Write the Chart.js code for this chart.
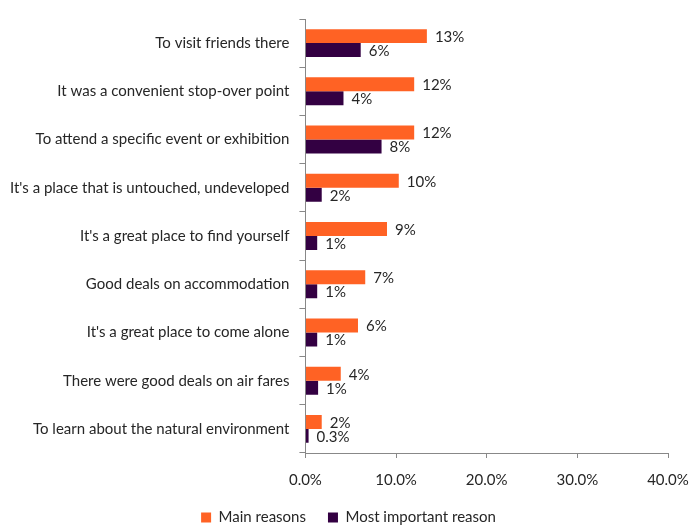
<!DOCTYPE html>
<html lang="en">
<head>
    <meta charset="UTF-8">
    <title>Reasons for visiting</title>
    <script src="https://cdn.jsdelivr.net/npm/chart.js"></script>
<style>
body {
    margin: 0;
    background: #ffffff;
}
#reasonsChart {
    display: block;
}
</style>
</head>
<body>
    <canvas id="reasonsChart" width="691" height="525"></canvas>
    <script>
        // values (percent)
        const reasons = [
            "To visit friends there",
            "It was a convenient stop-over point",
            "To attend a specific event or exhibition",
            "It's a place that is untouched, undeveloped",
            "It's a great place to find yourself",
            "Good deals on accommodation",
            "It's a great place to come alone",
            "There were good deals on air fares",
            "To learn about the natural environment"
        ];
        const mainReasons = [13.4, 12.0, 12.0, 10.3, 9.0, 6.6, 5.8, 3.9, 1.8];
        const mostImportant = [6.1, 4.2, 8.4, 1.8, 1.3, 1.3, 1.3, 1.4, 0.35];
        const xTicks = [0, 10, 20, 30, 40];

        const font = "Lato, 'Liberation Sans', sans-serif";
        const textColor = "#262626";
        const legendGap = 22;

        function pctLabel(v){
            return v < 1 ? v.toFixed(1) + '%' : Math.round(v) + '%';
        }

        // draws the value next to the end of every bar
        const barLabels = {
            id: 'barLabels',
            afterDatasetsDraw(chart){
                const ctx = chart.ctx;
                ctx.save();
                ctx.font = "15px " + font;
                ctx.fillStyle = textColor;
                ctx.textBaseline = 'middle';
                ctx.textAlign = 'left';
                chart.data.datasets.forEach((ds, i) => {
                    chart.getDatasetMeta(i).data.forEach((bar, j) => {
                        ctx.fillText(pctLabel(ds.data[j]), bar.x + 8, bar.y + 1);
                    });
                });
                ctx.restore();
            }
        };

        // legend in the original sits a little right of the canvas centre
        const legendShift = {
            id: 'legendShift',
            afterLayout(chart){
                chart.legend.left += 29;
            }
        };

        new Chart(document.getElementById('reasonsChart'), {
            type: 'bar',
            data: {
                labels: reasons,
                datasets: [{
                    label: 'Main reasons',
                    data: mainReasons,
                    backgroundColor: '#ff6224',
                    barPercentage: 1.0,
                    categoryPercentage: 0.58
                }, {
                    label: 'Most important reason',
                    data: mostImportant,
                    backgroundColor: '#330042',
                    barPercentage: 1.0,
                    categoryPercentage: 0.58
                }]
            },
            options: {
                indexAxis: 'y',
                responsive: false,
                animation: false,
                devicePixelRatio: 1,
                layout: {
                    padding: { top: 3, right: 23, left: 0, bottom: -10 }
                },
                plugins: {
                    legend: {
                        position: 'bottom',
                        labels: {
                            boxWidth: 10,
                            boxHeight: 10,
                            padding: legendGap,
                            color: textColor,
                            font: { family: font, size: 15 }
                        }
                    },
                    tooltip: { enabled: false }
                },
                scales: {
                    x: {
                        min: 0,
                        max: 40,
                        afterBuildTicks: axis => {
                            axis.ticks = xTicks.map(v => ({ value: v }));
                        },
                        afterFit: axis => {
                            // let the last tick label hang into the right padding
                            axis.paddingRight = 0;
                            // give back the height the wider legend gap took
                            axis.height -= legendGap - 8;
                        },
                        grid: {
                            drawOnChartArea: false,
                            drawTicks: true,
                            tickLength: 5,
                            color: '#888888'
                        },
                        border: { color: '#888888' },
                        ticks: {
                            padding: 13,
                            color: textColor,
                            font: { family: font, size: 15 },
                            callback: v => v.toFixed(1) + '%'
                        }
                    },
                    y: {
                        grid: {
                            offset: true,
                            drawOnChartArea: false,
                            tickLength: 6,
                            color: '#888888'
                        },
                        border: { color: '#888888' },
                        ticks: {
                            padding: 10,
                            color: textColor,
                            font: { family: font, size: 15 }
                        }
                    }
                }
            },
            plugins: [barLabels, legendShift]
        });
    </script>
</body>
</html>
